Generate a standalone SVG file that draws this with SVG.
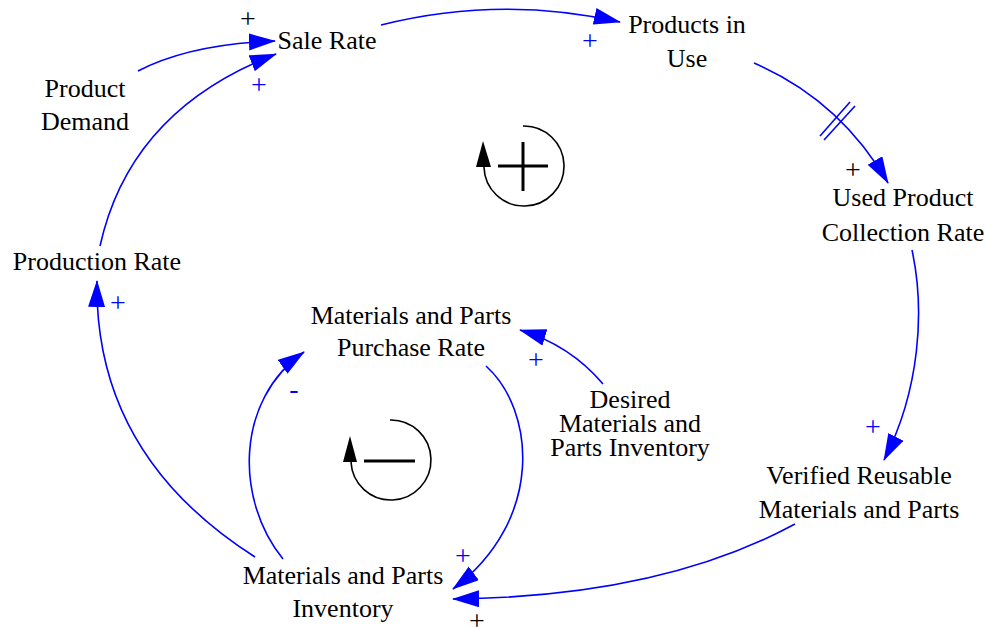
<svg xmlns="http://www.w3.org/2000/svg" width="986" height="628" viewBox="0 0 986 628">
<style>
  text { font-family: 'Liberation Serif', 'Times New Roman', serif; }
  .lbl { font-size: 26px; fill: #000; text-anchor: middle; }
  .pol { font-size: 28px; text-anchor: middle; }
  .b { fill: #0000ff; }
  .k { fill: #000; }
  .link { fill: none; stroke: #0000ff; stroke-width: 1.6; marker-end: url(#ah); }
  .loop { fill: none; stroke: #000; stroke-width: 1.6; }
</style>
<defs>
  <marker id="ah" markerUnits="userSpaceOnUse" markerWidth="28" markerHeight="18" refX="26" refY="8.5" orient="auto">
    <path d="M0,0 L27,8.5 L0,17 z" fill="#0000ff"/>
  </marker>
</defs>
<g id="connectors">
  <path class="link" d="M138,71 Q190,44 275,41"/>
  <path class="link" d="M100,246 Q130,110 276,54"/>
  <path class="link" d="M381,25 Q500,-5 620,22"/>
  <path class="link" d="M754,63 Q840,100 888,183"/>
  <line x1="820" y1="136" x2="850" y2="102" stroke="#0000ff" stroke-width="1.6"/>
  <line x1="824" y1="140" x2="855" y2="106" stroke="#0000ff" stroke-width="1.6"/>
  <path class="link" d="M912,250 C925,310 920,390 884,460"/>
  <path class="link" d="M795,524 Q660,597 453,599"/>
  <path class="link" d="M486,366 C535,410 545,520 453,589"/>
  <path class="link" d="M603,384 Q570,345 520,330"/>
  <path class="link" d="M283,559 C235,500 235,400 304,352"/>
  <path class="link" d="M255,557 C150,490 95,400 97,281"/>
  <text class="pol k" x="248" y="28">+</text>
  <text class="pol b" x="259" y="94">+</text>
  <text class="pol b" x="590" y="50">+</text>
  <text class="pol k" x="853" y="179">+</text>
  <text class="pol b" x="873" y="436">+</text>
  <text class="pol k" x="477" y="630">+</text>
  <text class="pol b" x="463" y="565">+</text>
  <text class="pol b" x="536" y="369">+</text>
  <text class="pol b" x="294" y="398">-</text>
  <text class="pol b" x="118" y="312">+</text>
</g>

<g id="loop-R">
  <path class="loop" d="M523,126 A40,40 0 1 1 484,167"/>
  <path d="M483,141 L476,167 L491,167 z" fill="#000"/>
  <line x1="498" y1="166" x2="548" y2="166" stroke="#000" stroke-width="3"/>
  <line x1="523" y1="142" x2="523" y2="191" stroke="#000" stroke-width="3"/>
</g>
<g id="loop-B">
  <path class="loop" d="M390,420 A40,40 0 1 1 351,462"/>
  <path d="M350,436 L343,462 L357,462 z" fill="#000"/>
  <line x1="364" y1="461" x2="415" y2="461" stroke="#000" stroke-width="3"/>
</g>

<g id="sale-rate"><text class="lbl" x="327" y="49">Sale Rate</text></g>
<g id="products-in-use"><text class="lbl" x="687" y="33">Products in</text><text class="lbl" x="687" y="67">Use</text></g>
<g id="product-demand"><text class="lbl" x="85" y="97">Product</text><text class="lbl" x="85" y="130">Demand</text></g>
<g id="used-product-collection-rate"><text class="lbl" x="903" y="206">Used Product</text><text class="lbl" x="903" y="241">Collection Rate</text></g>
<g id="production-rate"><text class="lbl" x="97" y="270">Production Rate</text></g>
<g id="purchase-rate"><text class="lbl" x="411" y="324">Materials and Parts</text><text class="lbl" x="411" y="356">Purchase Rate</text></g>
<g id="desired-inventory"><text class="lbl" x="630" y="408">Desired</text><text class="lbl" x="630" y="432">Materials and</text><text class="lbl" x="630" y="456">Parts Inventory</text></g>
<g id="verified-reusable"><text class="lbl" x="859" y="484">Verified Reusable</text><text class="lbl" x="859" y="518">Materials and Parts</text></g>
<g id="inventory"><text class="lbl" x="343" y="584">Materials and Parts</text><text class="lbl" x="343" y="617">Inventory</text></g>
</svg>
